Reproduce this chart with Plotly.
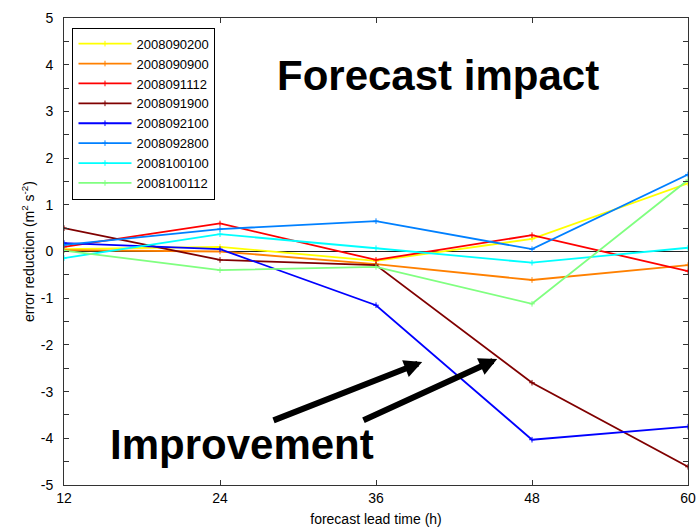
import plotly.graph_objects as go

lead_time = [12, 24, 36, 48, 60]
series_names = ["2008090200", "2008090900", "2008091112", "2008091900",
                "2008092100", "2008092800", "2008100100", "2008100112"]
v_2008090200 = [0.05, 0.10, -0.20, 0.27, 1.46]
v_2008090900 = [0.03, 0.00, -0.27, -0.61, -0.29]
v_2008091112 = [0.10, 0.60, -0.18, 0.35, -0.42]
v_2008091900 = [0.50, -0.18, -0.29, -2.81, -4.61]
v_2008092100 = [0.18, 0.05, -1.15, -4.03, -3.75]
v_2008092800 = [0.14, 0.48, 0.65, 0.05, 1.65]
v_2008100100 = [-0.14, 0.37, 0.07, -0.24, 0.08]
v_2008100112 = [0.02, -0.40, -0.33, -1.12, 1.53]
values = [v_2008090200, v_2008090900, v_2008091112, v_2008091900,
          v_2008092100, v_2008092800, v_2008100100, v_2008100112]
colors = ["#FFFF00", "#FF8000", "#FF0000", "#800000",
          "#0000FF", "#0080FF", "#00FFFF", "#80FF80"]

x_ticks = [12, 24, 36, 48, 60]
y_ticks = [-5, -4, -3, -2, -1, 0, 1, 2, 3, 4, 5]

FONT = "Liberation Sans, Arial, Helvetica, sans-serif"

fig = go.Figure()
for name, vals, c in zip(series_names, values, colors):
    fig.add_trace(go.Scatter(
        x=lead_time, y=vals, name=name, mode="lines+markers",
        line=dict(color=c, width=1.8),
        marker=dict(symbol="cross-thin", size=4, line=dict(color=c, width=1)),
    ))

W, H = 697, 529
L, T = 63.5, 18
R = W - 688
B = H - 485
pw, ph = W - L - R, H - T - B

def px(x):
    return (x - L) / pw

def py(y):
    return (H - B - y) / ph

annotations = [
    dict(text="<b>Forecast impact</b>", xref="paper", yref="paper",
         x=px(438), y=py(75), showarrow=False,
         font=dict(size=42, color="black", family=FONT),
         xanchor="center", yanchor="middle"),
    dict(text="<b>Improvement</b>", xref="paper", yref="paper",
         x=px(242), y=py(444), showarrow=False,
         font=dict(size=42, color="black", family=FONT),
         xanchor="center", yanchor="middle"),
]
for (tx, ty), (hx, hy) in [((271.7, 421), (422, 362)), ((361.7, 421), (497, 359))]:
    annotations.append(dict(
        text="", xref="x domain", yref="y domain", axref="x domain", ayref="y domain",
        x=px(hx), y=py(hy), ax=px(tx), ay=py(ty),
        showarrow=True, arrowhead=2, arrowsize=0.6, arrowwidth=6,
        arrowcolor="black", standoff=0, startstandoff=0,
    ))

axis_common = dict(
    showline=True, linecolor="#333333", linewidth=1, mirror="ticks",
    ticks="inside", ticklen=5, tickcolor="#333333", tickwidth=1,
    showgrid=False, automargin=False,
    tickfont=dict(size=14, color="black", family=FONT),
    ticklabeloverflow="allow",
)

fig.update_layout(
    width=W, height=H,
    margin=dict(l=L, r=R, t=T, b=B, pad=0, autoexpand=False),
    paper_bgcolor="white", plot_bgcolor="white",
    font=dict(family=FONT, color="black"),
    showlegend=True,
    legend=dict(
        x=px(72), y=py(27.7), xanchor="left", yanchor="top",
        bgcolor="white", bordercolor="black", borderwidth=1,
        font=dict(size=13, color="black", family=FONT),
        itemwidth=53, tracegroupgap=0,
    ),
    xaxis=dict(
        range=[12, 60], tickvals=x_ticks, ticktext=[str(v) for v in x_ticks],
        zeroline=False,
        title=dict(text="forecast lead time (h)", font=dict(size=14, family=FONT), standoff=9),
        ticklabelstandoff=0,
        **axis_common,
    ),
    yaxis=dict(
        range=[-5, 5], tickvals=y_ticks, ticktext=[str(v) for v in y_ticks],
        zeroline=True, zerolinecolor="#222222", zerolinewidth=1,
        minor=dict(dtick=0.5, ticks="inside", ticklen=5, tickcolor="#333333", showgrid=False),
        title=dict(text="error reduction (m<sup>2</sup> s<sup>-2</sup>)", font=dict(size=14, family=FONT), standoff=2),
        ticklabelstandoff=7,
        **axis_common,
    ),
    annotations=annotations,
)

fig.write_html(
    "out.html",
    config={"displayModeBar": False},
    post_script="document.body.style.margin='0';document.body.style.overflow='hidden';",
)
